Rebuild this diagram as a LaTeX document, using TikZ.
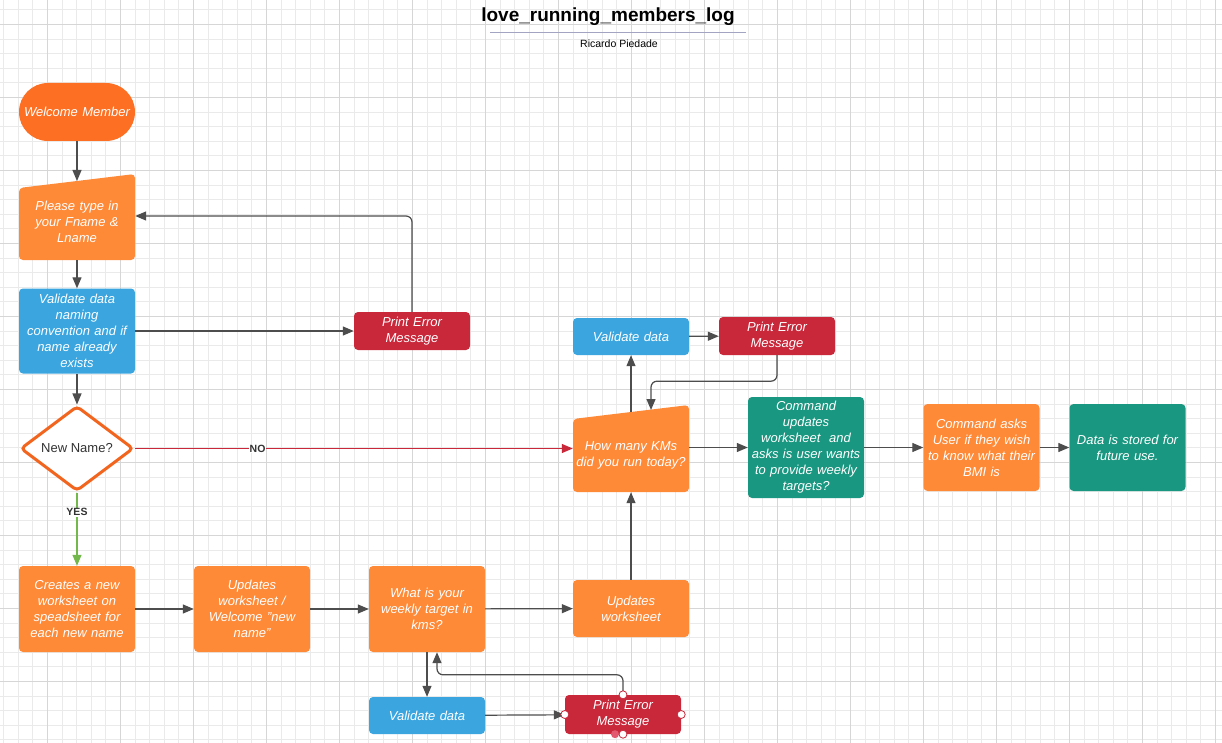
\documentclass[tikz,border=0pt]{standalone}
\usepackage{fontspec}
\setmainfont{Liberation Sans}
\usetikzlibrary{arrows.meta,shapes.geometric}
\definecolor{runorange}{HTML}{FE8A38}
\definecolor{welcomeorange}{HTML}{FD7024}
\definecolor{runblue}{HTML}{3BA5DF}
\definecolor{runred}{HTML}{C9283B}
\definecolor{runteal}{HTML}{1A9780}
\definecolor{diamondorange}{HTML}{F2651F}
\definecolor{yesgreen}{HTML}{73B84B}
\definecolor{linegray}{HTML}{4D4D4D}
\definecolor{textgray}{HTML}{333333}
\definecolor{gridminor}{HTML}{EAEAEA}
\definecolor{gridmajor}{HTML}{D6D6D6}
\definecolor{titleline}{HTML}{A3A3C2}
\definecolor{pinkdot}{HTML}{E35A70}
\tikzset{
    box/.style={rectangle, rounded corners=4pt, minimum width=116pt, text width=110pt, align=center,
        inner sep=0pt, text=white, font=\itshape\fontsize{13}{16}\selectfont},
    orangebox/.style={box, fill=runorange, minimum height=#1},
    bluebox/.style={box, fill=runblue, minimum height=#1},
    redbox/.style={box, fill=runred, minimum height=#1},
    tealbox/.style={box, fill=runteal, minimum height=#1},
    decision/.style={diamond, aspect=1.33, draw=diamondorange, line width=3pt, fill=white,
        minimum width=113pt, minimum height=85pt, inner sep=0pt, rounded corners=4pt,
        text=textgray, font=\fontsize{13}{15}\selectfont},
    flow/.style={draw=linegray, line width=1.2pt, -{Triangle[length=11pt,width=9pt]}},
    noflow/.style={flow, draw=runred},
    yesflow/.style={flow, draw=yesgreen},
    branchlabel/.style={fill=white, inner sep=1pt, text=textgray, font=\bfseries\fontsize{10.5}{12}\selectfont},
    handle/.style={draw=runred, fill=white, line width=0.8pt}
}
\begin{document}
\begin{tikzpicture}[x=1pt,y=-1pt]
            \useasboundingbox (0,0) rectangle (1222,743);
            \fill[white] (0,0) rectangle (1222,743);
            \foreach \x in {3.5,18.1,...,1222} \draw[gridminor, line width=0.5pt] (\x,0) -- (\x,743);
            \foreach \y in {9.7,24.3,...,743} \draw[gridminor, line width=0.5pt] (0,\y) -- (1222,\y);
            \foreach \x in {47.3,120.3,...,1222} \draw[gridmajor, line width=0.8pt] (\x,0) -- (\x,743);
            \foreach \y in {24.3,97.3,...,743} \draw[gridmajor, line width=0.8pt] (0,\y) -- (1222,\y);

            \node[font=\bfseries\fontsize{19}{22}\selectfont] (title) at (608,17) {love\_running\_members\_log};
            \draw[titleline, line width=0.8pt] (490,32) -- (746,32);
            \node[font=\fontsize{10.5}{12}\selectfont] (author) at (619,44) {Ricardo Piedade};

            \fill[runorange, rounded corners=4pt] (19,260) -- (135,260) -- (135,174) -- (19,188) -- cycle;
            \fill[runorange, rounded corners=4pt] (573,492) -- (689,492) -- (689,405) -- (573,419) -- cycle;

            \node[box, fill=welcomeorange, rounded corners=28.9pt, minimum height=58pt] (welcome) at (77,112) {Welcome Member};
            \node[box, minimum height=76pt] (fname) at (77,222) {Please type in\\your Fname \&\\Lname};
            \coordinate (fnametop) at (77,181);
            \node[bluebox=85pt] (checkname) at (77,331) {Validate data\\naming\\convention and if\\name already\\exists};
            \node[redbox=38pt] (nameerror) at (412,331) {Print Error\\Message};
            \node[decision] (newname) at (77,448.5) {New Name?};
            \node[orangebox=86pt] (newsheet) at (77,609) {Creates a new\\worksheet on\\speadsheet for\\each new name};
            \node[orangebox=86pt] (welcomesheet) at (252,609) {Updates\\worksheet /\\Welcome "new\\name"};
            \node[orangebox=86pt] (weeklytarget) at (427,609) {What is your\\weekly target in\\kms?};
            \node[orangebox=57pt] (updatesheet) at (631,608.5) {Updates\\worksheet};
            \node[bluebox=37pt] (validtarget) at (427,715.5) {Validate data};
            \node[redbox=39pt] (targeterror) at (623,714.5) {Print Error\\Message};
            \node[box, minimum height=74pt] (kms) at (631,455) {How many KMs\\did you run today?};
            \coordinate (kmsup) at (631,412);
            \coordinate (kmsin) at (651,410);
            \node[bluebox=37pt] (validkms) at (631,336.5) {Validate data};
            \node[redbox=38pt] (kmserror) at (777,336) {Print Error\\Message};
            \node[tealbox=101pt] (askweekly) at (806,447.5) {Command\\updates\\worksheet\ \ and\\asks is user wants\\to provide weekly\\targets?};
            \node[orangebox=87pt] (askbmi) at (981.5,447.5) {Command asks\\User if they wish\\to know what their\\BMI is};
            \node[tealbox=87pt] (stored) at (1127.5,447.5) {Data is stored for\\future use.};

            \draw[flow] (welcome) -- (fnametop);
            \draw[flow] (fname) -- (checkname);
            \draw[flow] (checkname) -- (newname);
            \draw[flow] (checkname) -- (nameerror);
            \draw[flow, rounded corners=6pt] (nameerror.north) |- ([yshift=6pt]fname.east);
            \draw[noflow] (newname.east) -- (newname.east -| kms.west) node[branchlabel, pos=0.28] {NO};
            \draw[yesflow] (newname) -- (newsheet) node[branchlabel, pos=0.27] {YES};
            \draw[flow] (newsheet) -- (welcomesheet);
            \draw[flow] (welcomesheet) -- (weeklytarget);
            \draw[flow] (weeklytarget) -- (updatesheet);
            \draw[flow] (updatesheet) -- (kms);
            \draw[flow] (weeklytarget) -- (validtarget);
            \draw[flow] (validtarget) -- (targeterror);
            \draw[flow, rounded corners=6pt] (targeterror.north) -- ++(0,-20) -| ([xshift=10pt]weeklytarget.south);
            \draw[flow] (kmsup) -- (validkms);
            \draw[flow] (validkms) -- (kmserror);
            \draw[flow, rounded corners=6pt] (kmserror.south) -- ++(0,26) -| (kmsin);
            \draw[flow] (kms.east |- askweekly) -- (askweekly);
            \draw[flow] (askweekly) -- (askbmi);
            \draw[flow] (askbmi) -- (stored);

            \fill[pinkdot] ([xshift=-8pt]targeterror.south) circle (4pt);
            \foreach \side in {north,west,east,south} \draw[handle] (targeterror.\side) circle (4pt);
        \end{tikzpicture}
\end{document}
